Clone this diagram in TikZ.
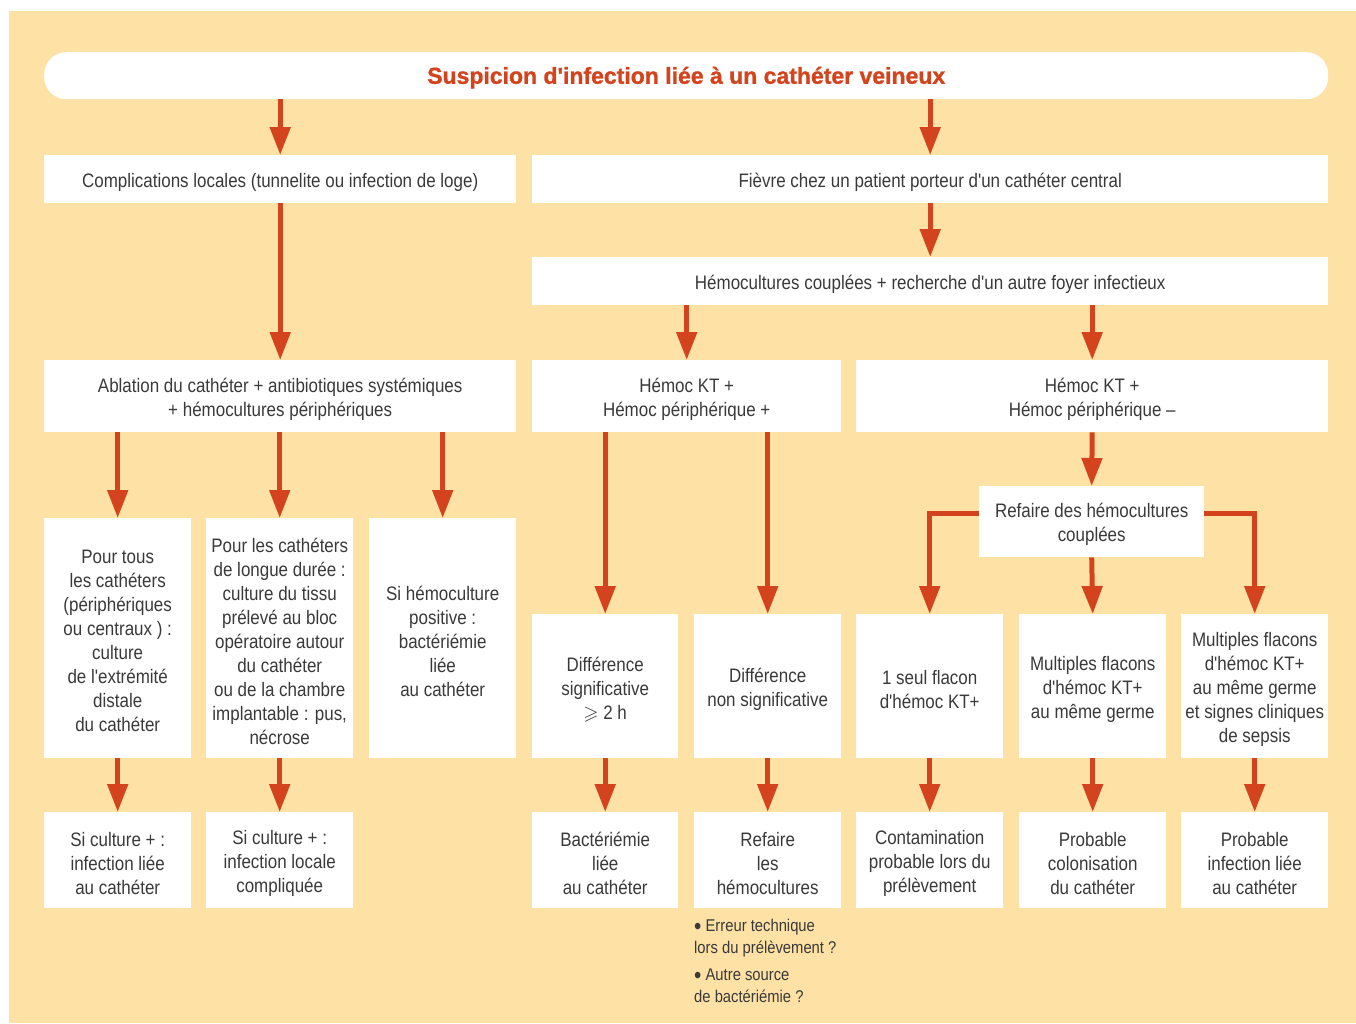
\documentclass[tikz,border=0pt]{standalone}
\usepackage{amssymb}
\usepackage{fontspec}
\newfontfamily\bodyfont[FakeStretch=0.87]{Liberation Sans}
\newfontfamily\titlefont[FakeBold=1.2]{Liberation Sans}
\usetikzlibrary{arrows.meta}
\definecolor{beige}{HTML}{FDE1A5}
\definecolor{arrred}{HTML}{D3441E}
\definecolor{txt}{HTML}{3A3A3A}
\tikzset{
  box/.style={fill=white, inner sep=0pt, anchor=north west},
  boxtext/.style={inner sep=0pt, align=center, text=txt,
    font=\bodyfont\fontsize{19.5}{24}\selectfont},
  arr/.style={draw=arrred, line width=5pt, -{Triangle[width=20pt,length=28pt]}},
  note/.style={anchor=north west, align=left, text=txt, inner sep=0pt,
    font=\bodyfont\fontsize{17}{22}\selectfont},
}
\newcommand{\bx}[6]{% name, x1, y1, x2, y2, text
  \node[box, minimum width=#4-#2, minimum height=#5-#3] (#1) at (#2,#3) {};
  \node[boxtext] (#1-t) at ([yshift=-3pt]#1.center) {#6};}
\newcommand{\bul}{\raisebox{-2.5pt}{\fontsize{24}{22}\selectfont •}}
\begin{document}
\begin{tikzpicture}[x=1pt,y=-1pt]
\useasboundingbox (0,0) rectangle (1356,1023);
\fill[beige] (9,11) rectangle (1356,1023);
% title
\node[fill=white, rounded corners=22pt, minimum width=1284pt, minimum height=47pt,
  inner sep=0pt, anchor=north west] (title) at (44,52) {};
\node[inner sep=0pt, text=arrred, font=\titlefont\bfseries\fontsize{23}{26}\selectfont]
  (title-t) at ([yshift=-2pt]title.center)
  {Suspicion d'infection liée à un cathéter veineux};
% row 1
\bx{comp}{44}{155}{516}{203}{Complications locales (tunnelite ou infection de loge)}
\bx{fievre}{532}{155}{1328}{203}{Fièvre chez un patient porteur d'un cathéter central}
\bx{hemo}{532}{257}{1328}{305}{Hémocultures couplées + recherche d'un autre foyer infectieux}
% row 3
\bx{abl}{44}{360}{516}{432}{Ablation du cathéter + antibiotiques systémiques\\+ hémocultures périphériques}
\bx{kp}{532}{360}{841}{432}{Hémoc KT +\\Hémoc périphérique +}
\bx{km}{856}{360}{1328}{432}{Hémoc KT +\\Hémoc périphérique –}
\bx{ref}{979}{486}{1204}{557}{Refaire des hémocultures\\couplées}
% row 4 left
\bx{la}{44}{518}{191}{758}{Pour tous\\les cathéters\\(périphériques\\ou centraux ) :\\culture\\de l'extrémité\\distale\\du cathéter}
\bx{lb}{206}{518}{353}{758}{Pour les cathéters\\de longue durée :\\culture du tissu\\prélevé au bloc\\opératoire autour\\du cathéter\\ou de la chambre\\implantable : pus,\\nécrose}
\bx{lc}{369}{518}{516}{758}{Si hémoculture\\positive :\\bactériémie\\liée\\au cathéter}
% row 4 right
\bx{ra}{532}{614}{678}{758}{Différence\\significative\\$\geqslant$ 2 h}
\bx{rb}{694}{614}{841}{758}{Différence\\non significative}
\bx{rc}{856}{614}{1003}{758}{1 seul flacon\\d'hémoc KT+}
\bx{rd}{1019}{614}{1166}{758}{Multiples flacons\\d'hémoc KT+\\au même germe}
\bx{re}{1181}{614}{1328}{758}{Multiples flacons\\d'hémoc KT+\\au même germe\\et signes cliniques\\de sepsis}
% row 5
\bx{fa}{44}{812}{191}{908}{Si culture + :\\infection liée\\au cathéter}
\bx{fb}{206}{812}{353}{908}{Si culture + :\\infection locale\\compliquée}
\bx{fc}{532}{812}{678}{908}{Bactériémie\\liée\\au cathéter}
\bx{fd}{694}{812}{841}{908}{Refaire\\les\\hémocultures}
\bx{fe}{856}{812}{1003}{908}{Contamination\\probable lors du\\prélèvement}
\bx{ff}{1019}{812}{1166}{908}{Probable\\colonisation\\du cathéter}
\bx{fg}{1181}{812}{1328}{908}{Probable\\infection liée\\au cathéter}
% notes
\node[note] (n1) at (694,919) {\bul\ Erreur technique\\lors du prélèvement ?};
\node[note] (n2) at (694,969) {\bul\ Autre source\\de bactériémie ?};
% arrows
\draw[arr] (title.south -| comp.north) -- (comp.north);
\draw[arr] (title.south -| fievre.north) -- (fievre.north);
\draw[arr] (comp.south) -- (abl.north);
\draw[arr] (fievre.south) -- (hemo.north);
\draw[arr] (hemo.south -| kp.north) -- (kp.north);
\draw[arr] (hemo.south -| km.north) -- (km.north);
\draw[arr] (abl.south -| la.north) -- (la.north);
\draw[arr] (abl.south -| lb.north) -- (lb.north);
\draw[arr] (abl.south -| lc.north) -- (lc.north);
\draw[arr] (kp.south -| ra.north) -- (ra.north);
\draw[arr] (kp.south -| rb.north) -- (rb.north);
\draw[arr] (km.south) -- (ref.north);
\draw[arr] ([yshift=8pt]ref.west) -| (rc.north);
\draw[arr] (ref.south) -- (rd.north);
\draw[arr] ([yshift=8pt]ref.east) -| (re.north);
\foreach \a/\b in {la/fa, lb/fb, ra/fc, rb/fd, rc/fe, rd/ff, re/fg}
  \draw[arr] (\a.south) -- (\b.north);
\end{tikzpicture}
\end{document}
